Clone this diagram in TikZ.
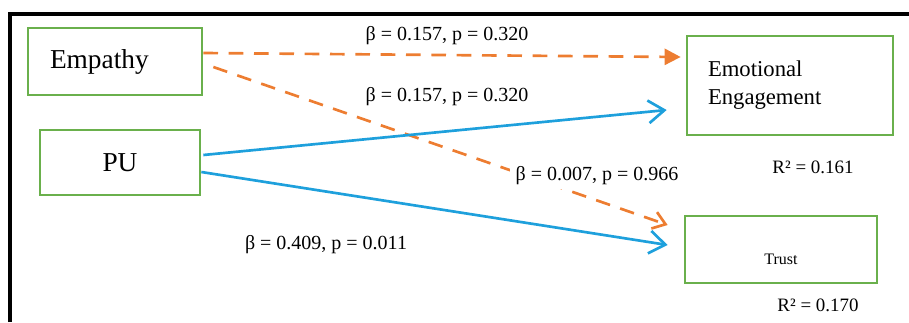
\documentclass[tikz,border=0pt]{standalone}
\usepackage{fontspec}
\setmainfont{Liberation Serif}
\usetikzlibrary{arrows.meta}
\definecolor{boxgreen}{RGB}{106,176,76}
\definecolor{nsorange}{RGB}{237,125,49}
\definecolor{sigblue}{RGB}{30,160,220}

\begin{document}
\begin{tikzpicture}[x=0.75pt, y=-0.75pt,
  var/.style={draw=boxgreen, line width=2pt, minimum height=50.25pt},
  ns/.style={draw=nsorange, line width=2pt, dash pattern=on 11pt off 8pt},
  sig/.style={draw=sigblue, line width=2pt, -{Straight Barb[length=12pt,width=17pt]}},
  coef/.style={font=\fontsize{15}{18}\selectfont, inner sep=0pt},
  rsq/.style={font=\fontsize{14.2}{17}\selectfont, inner sep=0pt}]
\useasboundingbox (0,0) rectangle (909,322);
% frame
\draw[line width=3pt] (10,322) -- (10,13.5) -- (909,13.5);
% constructs
\node[var, minimum width=130.5pt, text width=97.5pt, inner xsep=16.5pt, align=left,
  font=\fontsize{20.5}{24}\selectfont] (emp) at (115,61.5) {Empathy};
\node[var, minimum width=120pt, minimum height=48.75pt,
  font=\fontsize{20.5}{24}\selectfont] (pu) at (120,162.5) {PU};
\node[var, minimum width=154.5pt, minimum height=74.25pt, text width=123pt, inner xsep=15.75pt,
  align=left, font=\fontsize{17}{21}\selectfont] (ee) at (790,85.5) {Emotional\\ Engagement};
\node[var, minimum width=144pt] (trust) at (781,249.5) {};
\node[font=\fontsize{12}{14}\selectfont] (trustlbl) at ([yshift=-7pt]trust.center) {Trust};
% paths
\draw[ns, -{Triangle[length=12pt,width=12pt]}] ([shift={(0,-8.5)}]emp.east) -- ([shift={(-5,-28.5)}]ee.west);
\draw[ns, -{Straight Barb[length=9pt,width=13pt]}] ([shift={(10,5.5)}]emp.east) -- ([shift={(-16,-24.5)}]trust.west);
\draw[sig] ([shift={(2,-7.5)}]pu.east) -- ([shift={(-19,24.5)}]ee.west);
\draw[sig] ([shift={(0,9.5)}]pu.east) -- ([shift={(-16,-4.5)}]trust.west);
% coefficients
\node[coef] (b1) at (447,36) {β = 0.157, p = 0.320};
\node[coef] (b2) at (447,97) {β = 0.157, p = 0.320};
\node[coef, fill=white, inner xsep=4pt, inner ysep=3pt] (b3) at (597,176) {β = 0.007, p = 0.966};
\node[coef] (b4) at (326,245) {β = 0.409, p = 0.011};
\node[rsq] (r1) at (813,167) {R² = 0.161};
\node[rsq] (r2) at (818,305) {R² = 0.170};
\end{tikzpicture}
\end{document}
